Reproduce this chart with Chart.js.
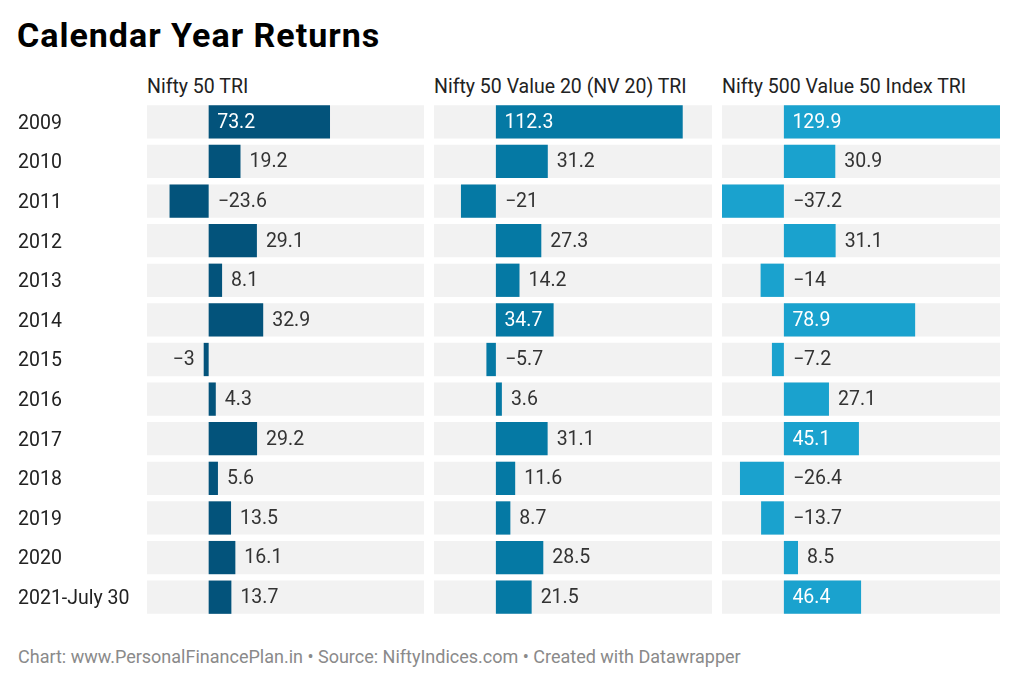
<!DOCTYPE html>
<html>
<head>
<meta charset="utf-8">
<script src="https://cdn.jsdelivr.net/npm/chart.js@4/dist/chart.umd.min.js"></script>
<style>
  html, body { margin:0; padding:0; background:#fff; width:1024px; height:685px; overflow:hidden; font-family: Roboto, "Noto Sans", sans-serif; }
  .abs { position:absolute; white-space:nowrap; }
  #title { left:17px; top:15px; font-size:34px; letter-spacing:1px; font-weight:700; color:#000; line-height:40px; }
  .hdr { top:75px; font-size:19.5px; color:#222; line-height:24px; }
  #footer { left:18px; top:646px; font-size:18px; color:#8a8a8a; line-height:22px; }
  canvas { position:absolute; }
</style>
</head>
<body>
<div id="title" class="abs">Calendar Year Returns</div>
<div class="abs hdr" style="left:147px">Nifty 50 TRI</div>
<div class="abs hdr" style="left:434px">Nifty 50 Value 20 (NV 20) TRI</div>
<div class="abs hdr" style="left:722px">Nifty 500 Value 50 Index TRI</div>
<canvas id="c0" width="424" height="515" style="left:0px; top:102px"></canvas>
<canvas id="c1" width="278" height="515" style="left:434px; top:102px"></canvas>
<canvas id="c2" width="278" height="515" style="left:722px; top:102px"></canvas>
<div id="footer" class="abs">Chart: www.PersonalFinancePlan.in • Source: NiftyIndices.com • Created with Datawrapper</div>
<script>
const years = ["2009","2010","2011","2012","2013","2014","2015","2016","2017","2018","2019","2020","2021-July 30"];
const nifty50 = [73.2, 19.2, -23.6, 29.1, 8.1, 32.9, -3, 4.3, 29.2, 5.6, 13.5, 16.1, 13.7];
const nv20 = [112.3, 31.2, -21, 27.3, 14.2, 34.7, -5.7, 3.6, 31.1, 11.6, 8.7, 28.5, 21.5];
const nv50 = [129.9, 30.9, -37.2, 31.1, -14, 78.9, -7.2, 27.1, 45.1, -26.4, -13.7, 8.5, 46.4];
const seriesNames = ["Nifty 50 TRI", "Nifty 50 Value 20 (NV 20) TRI", "Nifty 500 Value 50 Index TRI"];
const seriesColors = ["#03537b", "#0579a4", "#1aa2ce"];

const allSeries = [nifty50, nv20, nv50];
const allVals = allSeries.flat();
const xMin = Math.min(...allVals);
const xMax = Math.max(...allVals);

const FONT = '19.5px Roboto, "Noto Sans", sans-serif';
const fmt = v => (v < 0 ? '\u2212' + Math.abs(v) : String(v));

const labelPlugin = {
  id: 'valueLabels',
  afterDatasetsDraw(chart) {
    const ctx = chart.ctx;
    const xs = chart.scales.x;
    const meta = chart.getDatasetMeta(0);
    const vals = chart.data.datasets[0].data;
    ctx.save();
    ctx.font = FONT;
    ctx.textBaseline = 'middle';
    const x0 = xs.getPixelForValue(0);
    vals.forEach((v, i) => {
      const el = meta.data[i];
      const y = el.y + 1;
      const x1 = xs.getPixelForValue(v);
      const t = fmt(v);
      const w = ctx.measureText(t).width;
      if (v >= 0) {
        if (x1 - x0 >= w + 19) {
          ctx.fillStyle = '#ffffff'; ctx.textAlign = 'left';
          ctx.fillText(t, x0 + 8.5, y);
        } else {
          ctx.fillStyle = '#333333'; ctx.textAlign = 'left';
          ctx.fillText(t, x1 + 9, y);
        }
      } else {
        const leftSpace = x1 - chart.chartArea.left;
        if (leftSpace - w > 30) {
          ctx.fillStyle = '#333333'; ctx.textAlign = 'right';
          ctx.fillText(t, x1 - 9, y);
        } else {
          ctx.fillStyle = '#333333'; ctx.textAlign = 'left';
          ctx.fillText(t, x0 + 9, y);
        }
      }
    });
    ctx.restore();
  }
};

allSeries.forEach((vals, idx) => {
  const ctx = document.getElementById('c' + idx).getContext('2d');
  const yScale = {
    display: idx === 0,
    grid: { display: false, drawTicks: false },
    border: { display: false },
    ticks: { crossAlign: 'far', color: '#222', padding: 0, labelOffset: 2, font: { family: 'Roboto', size: 19.5 } }
  };
  if (idx === 0) {
    yScale.afterFit = s => { s.width = 129; s.paddingTop = 0; s.paddingBottom = 0; };
  }
  new Chart(ctx, {
    type: 'bar',
    data: {
      labels: years,
      datasets: [
        { label: seriesNames[idx], data: vals, backgroundColor: seriesColors[idx], borderWidth: 0,
          grouped: false, order: 1, barPercentage: 0.84, categoryPercentage: 1 },
        { label: 'band', data: years.map(() => [xMin, xMax]), backgroundColor: '#f2f2f2', borderWidth: 0,
          grouped: false, order: 2, barPercentage: 0.84, categoryPercentage: 1 }
      ]
    },
    options: {
      indexAxis: 'y',
      responsive: false,
      maintainAspectRatio: false,
      animation: false,
      layout: { padding: { left: idx === 0 ? 18 : 0, right: 0, top: 0, bottom: 0 } },
      plugins: { legend: { display: false }, tooltip: { enabled: false } },
      scales: {
        x: { display: false, min: xMin, max: xMax },
        y: yScale
      }
    },
    plugins: [labelPlugin]
  });
});
</script>
</body>
</html>
